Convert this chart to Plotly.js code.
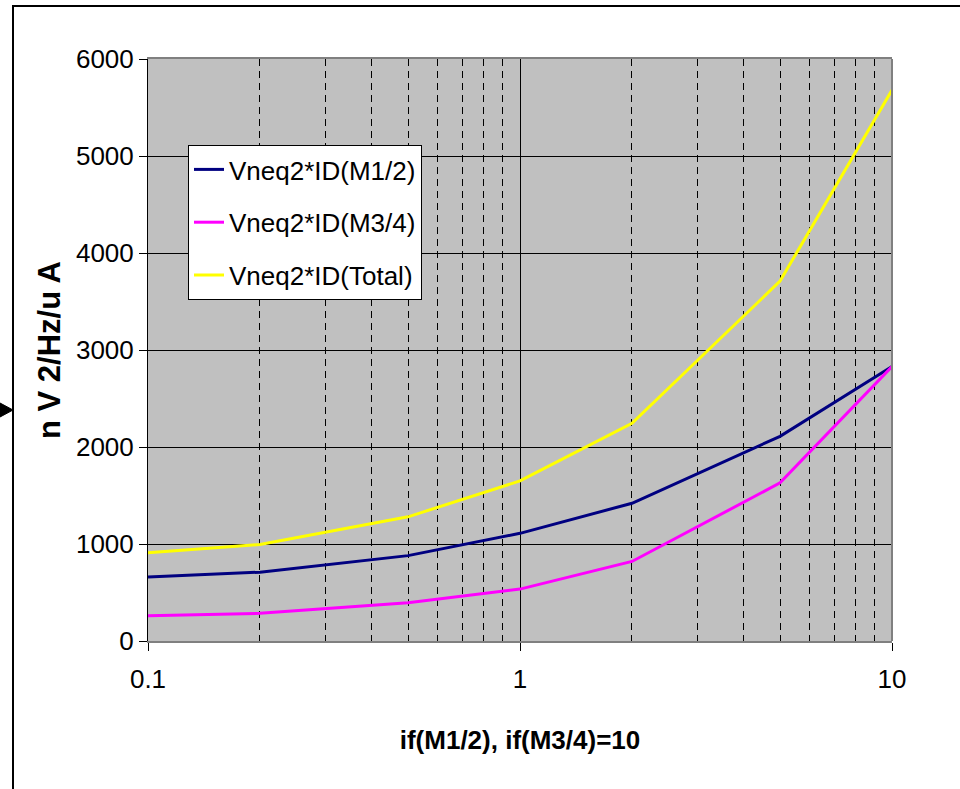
<!DOCTYPE html>
<html>
<head>
<meta charset="utf-8">
<script src="https://cdn.plot.ly/plotly-3.0.1.min.js"></script>
<style>
html,body{margin:0;padding:0;background:#fff;}
#chart{width:960px;height:789px;}
</style>
</head>
<body>
<div id="chart"></div>
<script>
var xValues = [0.1, 0.2, 0.5, 1, 2, 5, 10];
var seriesM12 = [660, 710, 880, 1110, 1420, 2110, 2830];
var seriesM34 = [260, 285, 395, 535, 820, 1630, 2830];
var seriesTotal = [910, 995, 1280, 1650, 2245, 3710, 5680];
var seriesNames = ["Vneq2*ID(M1/2)", "Vneq2*ID(M3/4)", "Vneq2*ID(Total)"];
var seriesColors = ["#000080", "#ff00ff", "#ffff00"];
var yTickVals = [0, 1000, 2000, 3000, 4000, 5000, 6000];
var xTitle = "if(M1/2), if(M3/4)=10";
var yTitle = "n V 2/Hz/u A";

var FONT = "Arial, 'Liberation Sans', sans-serif";
var allSeries = [seriesM12, seriesM34, seriesTotal];
var traces = allSeries.map(function(s, i){
  return {
    x: xValues, y: s, type: 'scatter', mode: 'lines',
    name: seriesNames[i], legendgroup: 'g' + i,
    line: {color: seriesColors[i], width: 3}
  };
});

var L = 148, R = 892, T = 59, B = 641, W = 960, H = 789;
var pw = R - L, ph = B - T;
function px(x){ return (x - L) / pw; }
function py(y){ return (B - y) / ph; }

var layout = {
  width: W, height: H,
  margin: {l: L, r: W - R, t: T, b: H - B},
  paper_bgcolor: '#ffffff',
  plot_bgcolor: '#c0c0c0',
  font: {family: FONT, size: 26, color: '#000'},
  showlegend: true,
  legend: {
    x: px(188), y: py(145), xanchor: 'left', yanchor: 'top',
    bgcolor: '#ffffff', bordercolor: '#000', borderwidth: 1,
    font: {family: FONT, size: 26, color: '#000'},
    traceorder: 'grouped', tracegroupgap: 16
  },
  xaxis: {
    type: 'log', range: [-1, 1], dtick: 1,
    showline: true, linecolor: '#808080', linewidth: 2, mirror: true,
    ticks: 'outside', ticklen: 8, tickcolor: '#000', tickwidth: 1,
    ticklabelstandoff: 6,
    showgrid: true, gridcolor: '#000', gridwidth: 1,
    zeroline: false,
    tickfont: {family: FONT, size: 26},
    minor: {dtick: 'D1', showgrid: true, gridcolor: '#000', gridwidth: 1, griddash: '7px,5px', ticks: ''},
    title: {text: '<b>' + xTitle + '</b>', font: {family: FONT, size: 26}, standoff: 38}
  },
  yaxis: {
    range: [0, 6000], tickvals: yTickVals,
    showline: true, linecolor: '#000', linewidth: 1,
    ticks: 'outside', ticklen: 8, tickcolor: '#000', tickwidth: 1,
    showgrid: true, gridcolor: '#000', gridwidth: 1,
    zeroline: false,
    tickfont: {family: FONT, size: 26},
    title: {text: '<b>' + yTitle + '</b>', font: {family: FONT, size: 31}, standoff: 6}
  },
  shapes: [
    {type: 'line', xref: 'paper', yref: 'paper', x0: 1, x1: 1, y0: 0, y1: 1,
     line: {color: '#808080', width: 2}},
    {type: 'path', xref: 'paper', yref: 'paper',
     path: 'M ' + px(13) + ' ' + py(800) + ' L ' + px(13) + ' ' + py(6) + ' L ' + px(970) + ' ' + py(6),
     line: {color: '#000', width: 2}},
    {type: 'path', xref: 'paper', yref: 'paper',
     path: 'M ' + px(0) + ' ' + py(403) + ' L ' + px(13) + ' ' + py(410) + ' L ' + px(0) + ' ' + py(417) + ' Z',
     fillcolor: '#000', line: {color: '#000', width: 1}}
  ]
};

Plotly.newPlot('chart', traces, layout, {displayModeBar: false, staticPlot: true});
</script>
</body>
</html>
